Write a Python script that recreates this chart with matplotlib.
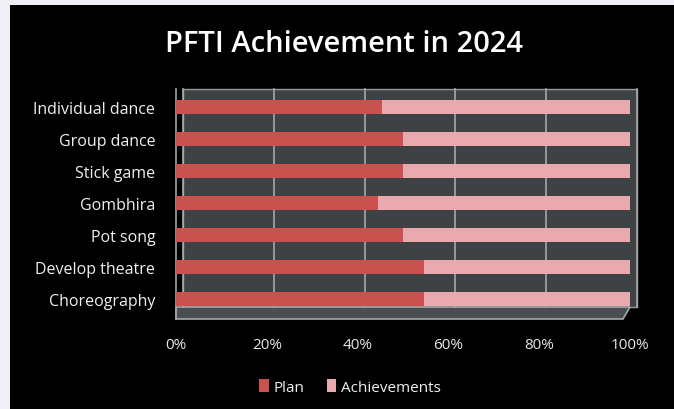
import matplotlib
matplotlib.use("Agg")
import matplotlib.pyplot as plt
import matplotlib.transforms as mtrans
from matplotlib.patches import Rectangle, Polygon
import numpy as np

categories = ["Individual dance", "Group dance", "Stick game", "Gombhira",
              "Pot song", "Develop theatre", "Choreography"]
plan = [5, 1, 1, 4, 1, 6, 6]
achievements = [6, 1, 1, 5, 1, 5, 5]
tick_labels = ["0%", "20%", "40%", "60%", "80%", "100%"]

W, H = 674, 410
fig = plt.figure(figsize=(W / 100, H / 100), dpi=100)
fig.patch.set_facecolor("#eef0f5")
fig.patches.append(Rectangle((10 / W, 0), 1 - 10 / W, 1 - 6 / H, transform=fig.transFigure,
                             facecolor="black", edgecolor="none", zorder=-5))

x0, x1, ytop, ybot = 176, 630, 90, 320
ax = fig.add_axes([x0 / W, 1 - ybot / H, (x1 - x0) / W, (ybot - ytop) / H])
ax.set_zorder(1)
ax.set_facecolor("none")
for s in ax.spines.values():
    s.set_visible(False)

off = mtrans.offset_copy(ax.transAxes, fig=fig, x=7, y=0, units="dots")
offd = mtrans.offset_copy(ax.transData, fig=fig, x=7, y=0, units="dots")
floor_h = 12 / (ybot - ytop)
# back wall
ax.add_patch(Rectangle((0, floor_h), 1, 1 - floor_h, transform=off, facecolor="#3e4245",
                       edgecolor="#9a9a9a", lw=1.0, zorder=0, clip_on=False))
# floor
ax.add_patch(Polygon([(0, 0), (1 - 7 / (x1 - x0), 0), (1, floor_h), (0, floor_h)],
                     closed=True, transform=ax.transAxes, facecolor="#4a4e52",
                     edgecolor="#a8a8a8", lw=1.2, zorder=0, clip_on=False))
# left wall edge line
ax.plot([0, 0], [0, 1], transform=ax.transAxes, color="#8fae9a", lw=1.2, zorder=1, clip_on=False)

totals = np.array(plan, float) + np.array(achievements, float)
p = np.array(plan) / totals
a = np.array(achievements) / totals
y = np.arange(len(categories))[::-1]

# gridlines on back wall
gtrans = mtrans.blended_transform_factory(offd, off)
for gx in np.linspace(0, 1, 6):
    ax.plot([gx, gx], [floor_h, 1], transform=gtrans,
            color="#a8a8a8", lw=1.2, zorder=1, clip_on=False)

bh = 0.44
ax.barh(y, p, height=bh, color="#c9514f", edgecolor="none", zorder=3, label="Plan")
ax.barh(y, a, left=p, height=bh, color="#e8aaae", edgecolor="none", zorder=3, label="Achievements")

ax.set_xlim(0, 1)
ax.set_ylim(-0.625, 6.5625)
ax.set_yticks(y)
ax.set_yticklabels(categories, fontsize=11.5, color="#f0f0f0", family="Open Sans")
ax.set_xticks(np.linspace(0, 1, 6))
ax.set_xticklabels(tick_labels, fontsize=11, color="#e8e8e8", family="Open Sans")
ax.tick_params(axis="both", length=0)
ax.tick_params(axis="y", pad=15)
ax.tick_params(axis="x", pad=13)

fig.text(344 / W, 1 - 45 / H, "PFTI Achievement in 2024", ha="center", va="center",
         fontsize=21, color="white", family="Open Sans", fontweight="semibold")

leg = fig.legend(loc="center", bbox_to_anchor=(350 / W, 1 - 388 / H), ncol=2, frameon=False,
                 handlelength=0.6, handleheight=0.9,
                 handletextpad=0.3, columnspacing=1.5, prop={"family": "Open Sans", "size": 11})
for t in leg.get_texts():
    t.set_color("#f0f0f0")

fig.savefig("out.png", dpi=100, facecolor=fig.get_facecolor())
